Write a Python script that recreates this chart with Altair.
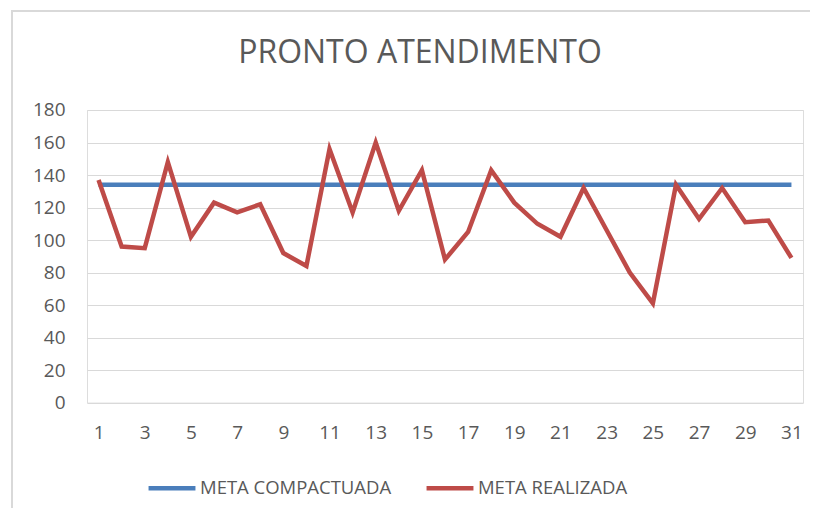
import altair as alt
import pandas as pd

dias = list(range(1, 32))
meta_compactuada = [134] * 31
meta_realizada = [137, 96, 95, 148, 102, 123, 117, 122, 92, 84,
                  156, 117, 160, 118, 143, 88, 105, 143, 123, 110,
                  102, 132, 106, 80, 61, 134, 113, 132, 111, 112, 89]
series = ["META COMPACTUADA", "META REALIZADA"]
cores = ["#4A7EBB", "#BE4B48"]
y_ticks = list(range(0, 181, 20))
x_labels = list(range(1, 32, 2))

df = pd.DataFrame({
    "dia": dias * 2,
    "valor": meta_compactuada + meta_realizada,
    "serie": [series[0]] * 31 + [series[1]] * 31,
})

FONT = "Open Sans"
GRAY = "#595959"

lines = alt.Chart(df).mark_line(strokeWidth=4.5, strokeJoin="miter").encode(
    x=alt.X("dia:O", title=None,
            axis=alt.Axis(values=x_labels, labelAngle=0, ticks=False, domain=False,
                          labelFontSize=19, labelColor=GRAY, labelFont=FONT, labelPadding=21)),
    y=alt.Y("valor:Q", title=None,
            scale=alt.Scale(domain=[0, 180], nice=False),
            axis=alt.Axis(values=y_ticks, ticks=False, domain=False, grid=True,
                          gridColor="#D9D9D9", gridWidth=1,
                          labelFontSize=19, labelColor=GRAY, labelFont=FONT, labelPadding=22)),
    color=alt.Color("serie:N", title=None,
                    scale=alt.Scale(domain=series, range=cores),
                    legend=alt.Legend(orient="none", legendX=59, legendY=352, direction="horizontal",
                                      symbolType="stroke", symbolSize=2200, symbolStrokeWidth=4.5,
                                      labelFontSize=18.5, labelColor=GRAY, labelFont=FONT,
                                      labelLimit=400, labelOffset=2, columnPadding=25)),
    order="dia:O",
)

border_df = pd.DataFrame({"k": [0]})
border_left = alt.Chart(border_df).mark_rule(color="#D9D9D9", strokeWidth=2, clip=False).encode(
    x=alt.value(-75), y=alt.value(-100), y2=alt.value(420))
border_top = alt.Chart(border_df).mark_rule(color="#D9D9D9", strokeWidth=2, clip=False).encode(
    x=alt.value(-75), x2=alt.value(730), y=alt.value(-99))

chart = alt.layer(border_left, border_top, lines).properties(
    width=716, height=292.6,
    title=alt.TitleParams("PRONTO ATENDIMENTO", fontSize=32, font=FONT, color=GRAY,
                          fontWeight="normal", anchor="middle", dx=-25, offset=-61),
    autosize=alt.AutoSizeParams(type="none"),
    padding={"left": 79, "top": 102, "right": 7, "bottom": 105},
).configure_view(stroke=None).configure(background="white")

chart.save("out.html", embed_options={"renderer": "svg", "actions": False})
